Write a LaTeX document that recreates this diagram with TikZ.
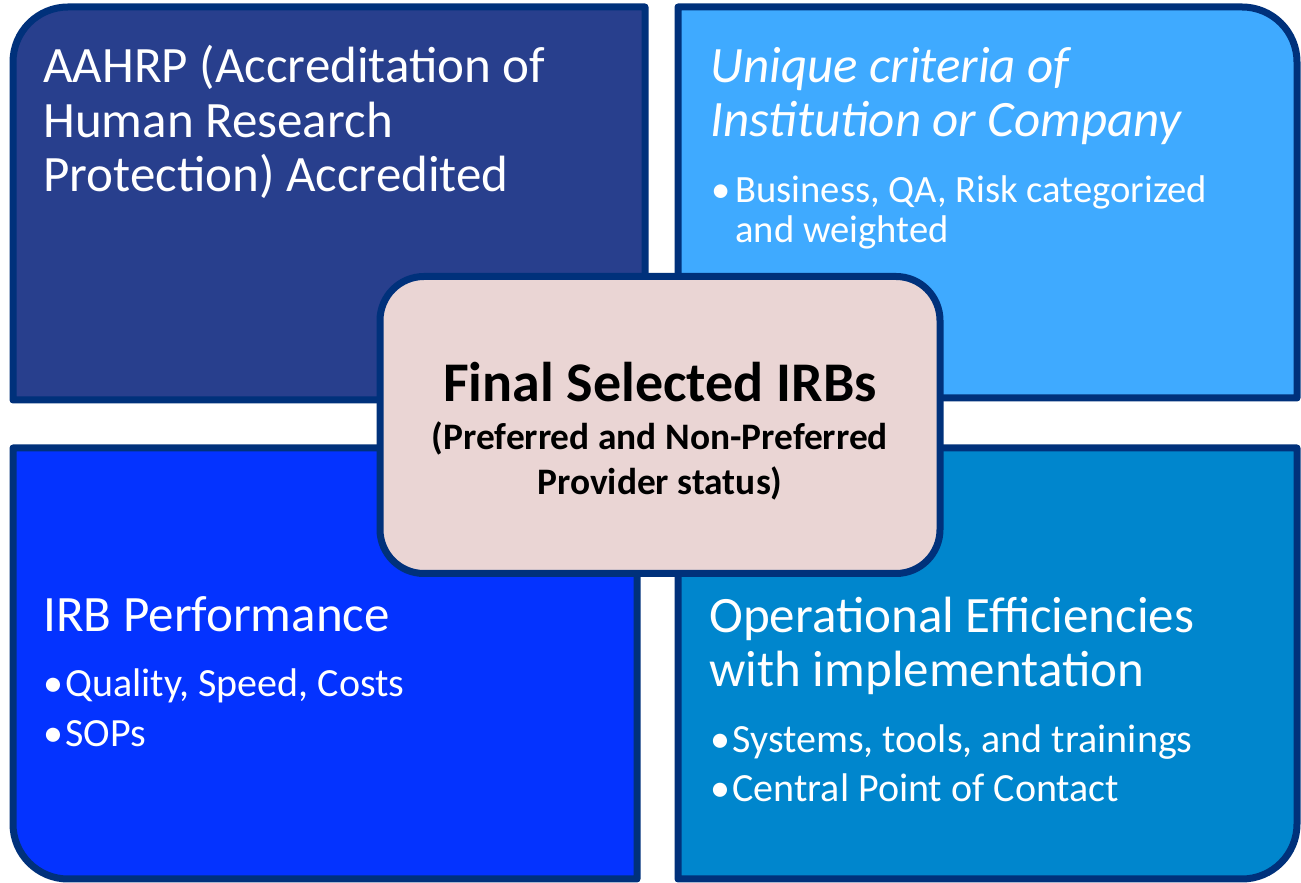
\documentclass[tikz,border=0pt]{standalone}
\usepackage{fontspec}
\setmainfont{Carlito}
\usetikzlibrary{shadows}

\definecolor{edgeblue}{HTML}{00317B}
\definecolor{navyfill}{HTML}{283F8D}
\definecolor{skyfill}{HTML}{3FAAFF}
\definecolor{royalfill}{HTML}{0433FF}
\definecolor{oceanfill}{HTML}{0086CD}
\definecolor{blushfill}{HTML}{EAD5D4}

% bullet with a fixed-width slot in front of the item text
\newcommand{\bitem}[1][11pt]{\makebox[#1][l]{\textbullet}}

\tikzset{
	quad/.style={draw=edgeblue, line width=3.5pt, line join=round,
		drop shadow={shadow xshift=1.2pt, shadow yshift=-1.2pt, opacity=.3}},
	% base anchor of these nodes sits on the last line
	head/.style={anchor=base west, align=left, inner sep=0pt, text=white,
		font=\fontsize{25.5}{27.3}\selectfont},
	items/.style={anchor=base west, align=left, inner sep=0pt, text=white,
		font=\fontsize{20}{20}\selectfont},
	finalbox/.style={draw=edgeblue, fill=blushfill, line width=3.5pt, rounded corners=22pt,
		minimum width=280pt, minimum height=148.5pt,
		drop shadow={shadow xshift=1.2pt, shadow yshift=-1.2pt, opacity=.3}}
}

\begin{document}
\begin{tikzpicture}[x=0.5pt,y=0.5pt]
	\useasboundingbox (0,0) rectangle (1301,883);

	% four quadrants, each rounded only on its outer corner
	\draw[quad, fill=navyfill] (13,483) -- (13,821) arc[start angle=180, end angle=90, radius=55] -- (645,876) -- (645,483) -- cycle;
	\draw[quad, fill=skyfill] (678,485) -- (678,876) -- (1242,876) arc[start angle=90, end angle=0, radius=55] -- (1297,485) -- cycle;
	\draw[quad, fill=royalfill] (13,435) -- (637,435) -- (637,4) -- (68,4) arc[start angle=270, end angle=180, radius=55] -- cycle;
	\draw[quad, fill=oceanfill] (678,435) -- (1297,435) -- (1297,59) arc[start angle=0, end angle=-90, radius=55] -- (678,4) -- cycle;

	\node[head] (aahrp) at (43,691) {AAHRP (Accreditation of\\Human Research\\Protection) Accredited};

	\node[head, font=\itshape\fontsize{25.5}{27.3}\selectfont] (unique) at (710,746) {Unique criteria of\\Institution or Company};
	\node[items, font=\fontsize{19.3}{20}\selectfont] (uniquelist) at (711,640) {\bitem[12pt]Business, QA, Risk categorized\\\hspace*{12pt}and weighted};

	\node[head] (perf) at (43,251) {IRB Performance};
	\node[items] (perflist) at (43,136) {\bitem Quality, Speed, Costs\\[5pt]\bitem SOPs};

	\node[head] (ops) at (709,196) {Operational Efficiencies\\with implementation};
	\node[items] (opslist) at (710,81) {\bitem Systems, tools, and trainings\\[4.5pt]\bitem Central Point of Contact};

	% centre box sits on top of the quadrants
	\node[finalbox] (final) at (660,458) {};
	\node[anchor=base, inner sep=0pt, font=\bfseries\fontsize{28}{28}\selectfont] (finaltitle) at (660,481) {Final Selected IRBs};
	\node[anchor=base, align=center, inner sep=0pt, font=\bfseries\fontsize{18.7}{22.5}\selectfont] (finalsub) at (660,388) {(Preferred and Non-Preferred\\Provider status)};
\end{tikzpicture}
\end{document}
